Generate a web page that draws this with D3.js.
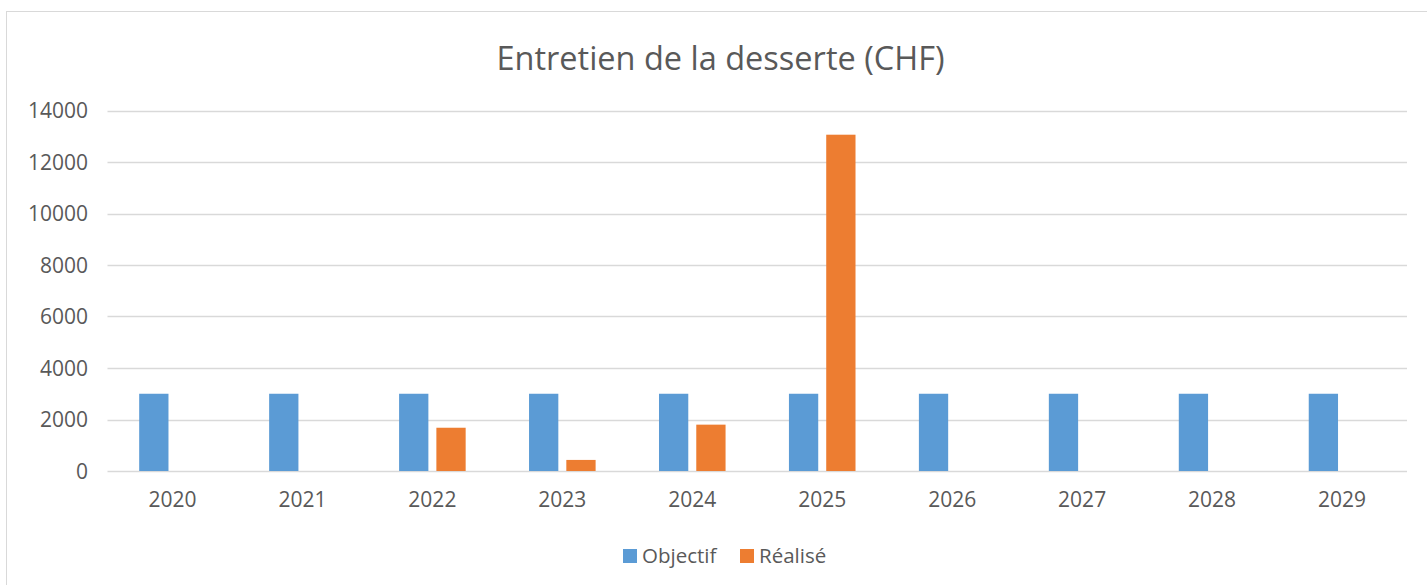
<!DOCTYPE html>
<html>
<head>
<meta charset="utf-8">
<script src="https://cdn.jsdelivr.net/npm/d3@7"></script>
<style>
  body { margin: 0; background: #fff; }
  svg { display: block; font-family: "Open Sans", "Liberation Sans", sans-serif; }
</style>
</head>
<body>
<svg id="chart"></svg>
<script>
const years = ["2020", "2021", "2022", "2023", "2024", "2025", "2026", "2027", "2028", "2029"];
const objectif = [3000, 3000, 3000, 3000, 3000, 3000, 3000, 3000, 3000, 3000];
const realise = [null, null, 1680, 430, 1800, 13060, null, null, null, null];
const yTicks = [0, 2000, 4000, 6000, 8000, 10000, 12000, 14000];
const seriesNames = ["Objectif", "Réalisé"];
const colors = ["#5b9bd5", "#ed7d31"];

const width = 1427, height = 585;
const margin = { left: 107.5, right: 20, top: 110.5, bottom: 114 };
const fontSize = 21;
const fontFamily = '"Open Sans", "Liberation Sans", sans-serif';

const svg = d3.select("#chart").attr("width", width).attr("height", height);

// cadre du graphique
svg.append("rect")
  .attr("x", 6.5).attr("y", 11.5)
  .attr("width", width).attr("height", height)
  .attr("fill", "none").attr("stroke", "#d9d9d9");

const x = d3.scaleBand()
  .domain(years)
  .range([margin.left, width - margin.right])
  .paddingInner(0).paddingOuter(0);

const y = d3.scaleLinear()
  .domain([0, 14000])
  .range([height - margin.bottom, margin.top]);

const inner = d3.scaleBand()
  .domain(seriesNames)
  .range([0, x.bandwidth()])
  .paddingInner(0.2145)
  .paddingOuter(0.85);

// grille
svg.append("g")
  .selectAll("line")
  .data(yTicks)
  .join("line")
  .attr("x1", margin.left).attr("x2", width - margin.right)
  .attr("y1", d => Math.round(y(d)) + 0.5).attr("y2", d => Math.round(y(d)) + 0.5)
  .attr("stroke", "#d9d9d9").attr("stroke-width", 1.3);

// axe y
svg.append("g")
  .attr("transform", `translate(${margin.left - 16.5},0)`)
  .call(d3.axisLeft(y).tickValues(yTicks).tickSize(0).tickFormat(d3.format("d")))
  .attr("font-family", fontFamily)
  .call(g => g.select(".domain").remove())
  .selectAll("text")
  .attr("fill", "#595959").attr("font-size", fontSize).attr("dy", "0.35em");

// axe x
svg.append("g")
  .attr("transform", `translate(0,${height - margin.bottom + 18})`)
  .call(d3.axisBottom(x).tickSize(0))
  .attr("font-family", fontFamily)
  .call(g => g.select(".domain").remove())
  .selectAll("text")
  .attr("fill", "#595959").attr("font-size", fontSize).attr("dy", "0.71em");

// barres
const data = [objectif, realise];
data.forEach((vals, s) => {
  svg.append("g")
    .selectAll("rect")
    .data(years.map((yr, i) => ({ yr, v: vals[i] })).filter(d => d.v != null))
    .join("rect")
    .attr("x", d => x(d.yr) + inner(seriesNames[s]))
    .attr("width", inner.bandwidth())
    .attr("y", d => y(d.v))
    .attr("height", d => y(0) - y(d.v))
    .attr("fill", colors[s]);
});

// titre
svg.append("text")
  .attr("x", 720.5).attr("y", 70)
  .attr("text-anchor", "middle")
  .attr("fill", "#595959").attr("font-size", 32.5)
  .text("Entretien de la desserte (CHF)");

// légende
const legend = svg.append("g");
const legendX = [623, 740];
seriesNames.forEach((name, i) => {
  legend.append("rect")
    .attr("x", legendX[i]).attr("y", 549)
    .attr("width", 14).attr("height", 14)
    .attr("fill", colors[i]);
  legend.append("text")
    .attr("x", legendX[i] + 19).attr("y", 556)
    .attr("dy", "0.35em")
    .attr("fill", "#595959").attr("font-size", 20.5)
    .text(name);
});
</script>
</body>
</html>
